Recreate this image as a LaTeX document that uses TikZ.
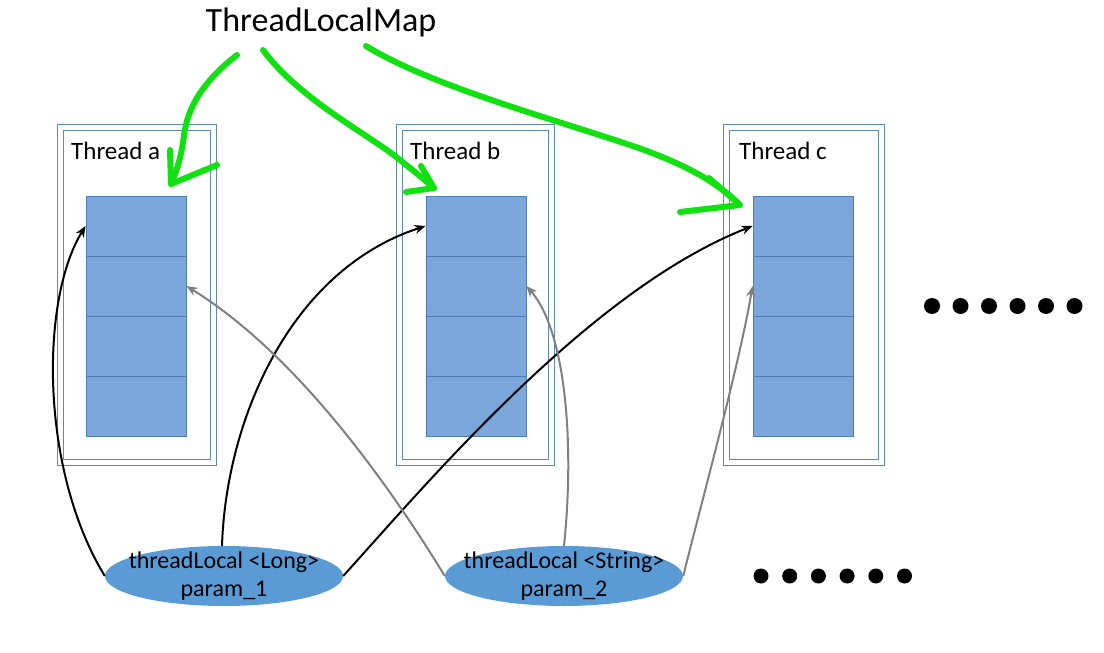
\documentclass[tikz,border=0pt]{standalone}
\usepackage{fontspec}
\setmainfont{Carlito}
\usetikzlibrary{arrows.meta,shapes.geometric}
\definecolor{cellfill}{HTML}{7BA7DA}
\definecolor{celldraw}{HTML}{4F7DB3}
\definecolor{framec}{HTML}{5F87BD}
\definecolor{ellfill}{HTML}{5B9BD5}
\definecolor{greenc}{HTML}{11E011}
\definecolor{grayc}{HTML}{808080}
\begin{document}
\begin{tikzpicture}[x=1pt,y=-1pt,
  cell/.style={draw=celldraw,fill=cellfill,line width=0.9pt,minimum width=100pt,minimum height=60pt,inner sep=0pt},
  framebox/.style={draw=framec,line width=0.8pt},
  tlabel/.style={font=\fontsize{25}{29}\selectfont,anchor=base west,inner sep=0pt},
  ell/.style={ellipse,fill=ellfill,minimum width=238pt,minimum height=60pt,inner sep=0pt},
  elltext/.style={align=center,inner sep=0pt,font=\fontsize{24}{28}\selectfont},
  blk/.style={black,line width=2pt,-{Stealth[length=11pt,width=9pt]}},
  gry/.style={grayc,line width=2pt,-{Stealth[length=11pt,width=9pt]}},
  grn/.style={greenc,line width=6pt,line cap=round,line join=round},
  dot/.style={circle,fill=black,inner sep=0pt,minimum size=16pt}]
\useasboundingbox (0,0) rectangle (1104,653);
% title
\node[font=\fontsize{34}{38}\selectfont,inner sep=0pt] (title) at (321,22) {ThreadLocalMap};
% thread frames
\foreach \x/\w/\n in {57/159/a,396/158/b,723/161/c}{
  \draw[framebox] (\x,124) rectangle ++(\w,341);
  \draw[framebox] (\x+6,130) rectangle ++(\w-12,329);
}
\node[tlabel] (la) at (71,159) {Thread a};
\node[tlabel] (lb) at (410,159) {Thread b};
\node[tlabel] (lc) at (739,159) {Thread c};
% stacks
\foreach \n/\cx in {a/136,b/476,c/803}{
  \node[cell] (\n1) at (\cx,226) {};
  \node[cell] (\n2) at (\cx,286) {};
  \node[cell] (\n3) at (\cx,346) {};
  \node[cell] (\n4) at (\cx,406) {};
}
% ellipses
\node[ell] (e1) at (224,576) {};
\node[elltext] (t1) at (e1) {threadLocal <Long>\\param\_1};
\node[ell] (e2) at (564,576) {};
\node[elltext] (t2) at (e2) {threadLocal <String>\\param\_2};
% dots
\foreach \i in {0,...,5}{
  \node[dot] (r\i) at (932+28.5*\i,306) {};
  \node[dot,minimum size=15pt] (s\i) at (761+28.7*\i,576) {};
}
% black arrows
\draw[blk] (e1.west) .. controls (40,470) and (40,300) .. (a1.west);
\draw[blk] (e1.north) ++(-2,0) .. controls (226,420) and (290,270) .. (b1.west);
\draw[blk] (e1.east) .. controls (430,480) and (590,290) .. (c1.west);
% gray arrows
\draw[gry] (e2.west) .. controls (380,470) and (290,350) .. (a2.east);
\draw[gry] (e2.north) .. controls (575,440) and (565,330) .. (b2.east);
\draw[gry] (e2.east) .. controls (710,470) and (740,360) .. (c2.west);
% green hand-drawn arrows
\coordinate (g1s) at (237,55);
\coordinate (g1e) at (171,184);
\draw[grn] (g1s) .. controls (205,80) and (188,105) .. (184,135) .. controls (181,160) and (176,172) .. (g1e);
\draw[grn] (170,150) -- (g1e) -- (217,165);
\coordinate (g2s) at (263,50);
\coordinate (g2e) at (434,188);
\draw[grn] (g2s) .. controls (300,100) and (370,135) .. (400,160) .. controls (415,172) and (425,180) .. (g2e);
\draw[grn] (421,166) -- (g2e) -- (406,192);
\coordinate (g3s) at (366,46);
\coordinate (g3e) at (740,205);
\draw[grn] (g3s) .. controls (430,85) and (540,115) .. (630,145) .. controls (680,162) and (715,180) .. (g3e);
\draw[grn] (709,178) -- (g3e) -- (680,212);
\end{tikzpicture}
\end{document}
